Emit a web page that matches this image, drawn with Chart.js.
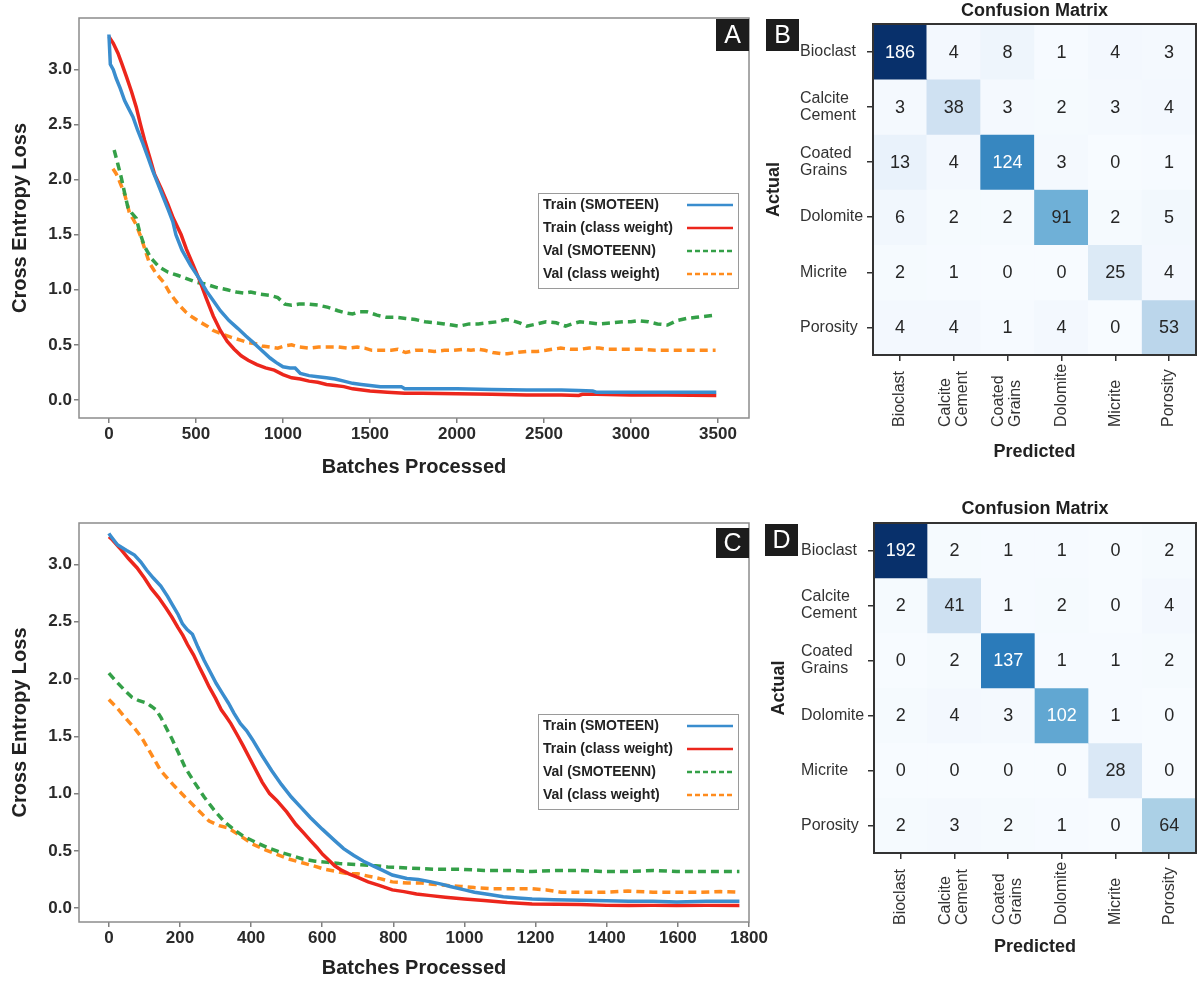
<!DOCTYPE html>
<html>
<head>
<meta charset="utf-8">
<script src="https://cdn.jsdelivr.net/npm/chart.js@4.4.1/dist/chart.umd.min.js"></script>
<style>
  html, body { margin: 0; padding: 0; background: #fff; }
  #fig { position: relative; width: 1199px; height: 982px; overflow: hidden; }
  canvas { position: absolute; }
</style>
</head>
<body>
<div id="fig">
  <canvas id="lossA" width="760" height="490" style="left:0;top:0"></canvas>
  <canvas id="lossC" width="775" height="492" style="left:0;top:490px"></canvas>
  <canvas id="cmB" width="439" height="490" style="left:760px;top:0"></canvas>
  <canvas id="cmD" width="439" height="492" style="left:760px;top:490px"></canvas>
</div>
<script>
// ---- data: panel A (loss curves, long run) ----
const trainSmoteA_x = [0, 8, 25, 42, 65, 90, 109, 138, 165, 195, 225, 252, 280, 310, 340, 367, 385, 420, 470, 520, 560, 600, 640, 690, 740, 787, 830, 871, 926, 960, 1000, 1040, 1070, 1100, 1150, 1200, 1250, 1300, 1350, 1400, 1450, 1500, 1560, 1650, 1680, 1700, 1800, 1900, 2000, 2200, 2400, 2600, 2700, 2780, 2800, 3000, 3200, 3490];
const trainSmoteA_y = [3.32, 3.05, 3.00, 2.92, 2.83, 2.72, 2.66, 2.57, 2.45, 2.33, 2.20, 2.08, 1.97, 1.85, 1.73, 1.62, 1.50, 1.36, 1.22, 1.10, 0.99, 0.90, 0.81, 0.72, 0.65, 0.58, 0.52, 0.46, 0.38, 0.34, 0.30, 0.29, 0.29, 0.24, 0.22, 0.21, 0.20, 0.19, 0.17, 0.15, 0.14, 0.13, 0.12, 0.12, 0.12, 0.10, 0.10, 0.10, 0.10, 0.095, 0.09, 0.09, 0.085, 0.08, 0.07, 0.07, 0.07, 0.07];
const trainWeightA_x = [0, 25, 52, 75, 100, 130, 157, 180, 205, 235, 262, 300, 338, 370, 415, 445, 480, 520, 560, 600, 640, 680, 720, 760, 800, 850, 900, 950, 1000, 1050, 1100, 1150, 1200, 1250, 1300, 1350, 1400, 1500, 1600, 1700, 1800, 2000, 2200, 2400, 2600, 2700, 2720, 2800, 3000, 3200, 3490];
const trainWeightA_y = [3.30, 3.24, 3.15, 3.05, 2.94, 2.80, 2.66, 2.51, 2.36, 2.20, 2.05, 1.92, 1.78, 1.65, 1.50, 1.37, 1.24, 1.09, 0.92, 0.76, 0.63, 0.53, 0.46, 0.40, 0.36, 0.32, 0.29, 0.27, 0.23, 0.20, 0.19, 0.17, 0.16, 0.14, 0.13, 0.12, 0.10, 0.08, 0.07, 0.06, 0.06, 0.055, 0.05, 0.045, 0.045, 0.04, 0.05, 0.05, 0.045, 0.045, 0.04];
const valSmoteA_x = [30, 50, 71, 90, 109, 130, 157, 176, 203, 240, 287, 340, 398, 450, 500, 560, 620, 680, 732, 780, 815, 870, 926, 970, 1010, 1050, 1093, 1150, 1205, 1260, 1316, 1360, 1400, 1440, 1483, 1540, 1594, 1650, 1705, 1760, 1817, 1870, 1928, 1970, 2012, 2070, 2123, 2180, 2234, 2280, 2318, 2360, 2401, 2460, 2512, 2570, 2624, 2660, 2707, 2760, 2818, 2890, 2958, 3000, 3041, 3100, 3152, 3210, 3264, 3320, 3375, 3430, 3486];
const valSmoteA_y = [2.27, 2.15, 2.02, 1.88, 1.75, 1.70, 1.65, 1.53, 1.40, 1.29, 1.21, 1.16, 1.13, 1.10, 1.07, 1.05, 1.02, 1.00, 0.98, 0.97, 0.98, 0.96, 0.95, 0.93, 0.87, 0.86, 0.87, 0.87, 0.86, 0.84, 0.81, 0.79, 0.78, 0.80, 0.80, 0.77, 0.75, 0.75, 0.74, 0.73, 0.71, 0.70, 0.69, 0.68, 0.67, 0.69, 0.69, 0.70, 0.71, 0.73, 0.72, 0.70, 0.67, 0.69, 0.71, 0.70, 0.67, 0.69, 0.71, 0.70, 0.69, 0.70, 0.71, 0.71, 0.72, 0.71, 0.69, 0.68, 0.72, 0.74, 0.75, 0.76, 0.77];
const valWeightA_x = [23, 40, 52, 70, 90, 105, 119, 140, 157, 186, 231, 270, 314, 350, 398, 440, 481, 520, 565, 600, 648, 700, 760, 800, 843, 880, 926, 970, 1010, 1050, 1093, 1150, 1205, 1260, 1316, 1370, 1427, 1470, 1511, 1570, 1622, 1660, 1705, 1760, 1817, 1870, 1928, 1980, 2040, 2080, 2123, 2160, 2206, 2250, 2290, 2340, 2401, 2460, 2512, 2550, 2596, 2650, 2707, 2760, 2818, 2870, 2930, 3000, 3069, 3140, 3208, 3290, 3375, 3486];
const valWeightA_y = [2.10, 2.06, 2.02, 1.95, 1.87, 1.78, 1.69, 1.64, 1.59, 1.47, 1.25, 1.15, 1.07, 0.97, 0.87, 0.80, 0.75, 0.71, 0.67, 0.63, 0.60, 0.57, 0.54, 0.52, 0.51, 0.49, 0.48, 0.47, 0.49, 0.50, 0.48, 0.47, 0.48, 0.48, 0.48, 0.47, 0.48, 0.47, 0.45, 0.45, 0.45, 0.46, 0.43, 0.45, 0.45, 0.44, 0.45, 0.45, 0.46, 0.45, 0.46, 0.45, 0.43, 0.42, 0.42, 0.43, 0.44, 0.44, 0.45, 0.46, 0.47, 0.46, 0.46, 0.47, 0.47, 0.46, 0.46, 0.46, 0.46, 0.45, 0.45, 0.45, 0.45, 0.45];

// ---- data: panel C (loss curves, short run) ----
const trainSmoteC_x = [0, 4, 24, 50, 72, 90, 106, 125, 146, 165, 180, 195, 207, 220, 235, 250, 268, 285, 302, 320, 336, 352, 370, 387, 404, 431, 458, 485, 513, 540, 567, 600, 635, 660, 689, 716, 743, 770, 797, 838, 870, 906, 935, 960, 1000, 1028, 1070, 1109, 1150, 1190, 1250, 1326, 1400, 1462, 1530, 1597, 1680, 1773];
const trainSmoteC_y = [3.27, 3.25, 3.17, 3.12, 3.08, 3.02, 2.95, 2.88, 2.81, 2.72, 2.64, 2.56, 2.48, 2.43, 2.39, 2.28, 2.16, 2.06, 1.96, 1.87, 1.79, 1.70, 1.61, 1.55, 1.47, 1.33, 1.20, 1.08, 0.97, 0.88, 0.79, 0.69, 0.59, 0.52, 0.46, 0.41, 0.37, 0.33, 0.29, 0.26, 0.25, 0.23, 0.21, 0.19, 0.16, 0.14, 0.12, 0.10, 0.09, 0.08, 0.075, 0.07, 0.065, 0.06, 0.06, 0.055, 0.06, 0.06];
const trainWeightC_x = [0, 8, 31, 55, 79, 100, 119, 140, 160, 177, 194, 208, 221, 238, 255, 268, 282, 300, 316, 330, 343, 363, 377, 404, 431, 452, 472, 500, 526, 547, 567, 585, 601, 618, 635, 655, 675, 700, 729, 760, 797, 830, 865, 905, 946, 1000, 1055, 1120, 1190, 1260, 1326, 1400, 1462, 1530, 1597, 1680, 1773];
const trainWeightC_y = [3.24, 3.22, 3.14, 3.05, 2.97, 2.88, 2.79, 2.71, 2.62, 2.54, 2.45, 2.38, 2.30, 2.21, 2.10, 2.02, 1.93, 1.83, 1.73, 1.67, 1.61, 1.50, 1.42, 1.26, 1.10, 1.00, 0.94, 0.84, 0.73, 0.66, 0.59, 0.53, 0.47, 0.42, 0.37, 0.33, 0.30, 0.27, 0.23, 0.20, 0.16, 0.145, 0.125, 0.11, 0.096, 0.08, 0.067, 0.05, 0.038, 0.035, 0.032, 0.025, 0.023, 0.025, 0.023, 0.025, 0.025];
const valSmoteC_x = [0, 20, 45, 65, 85, 106, 120, 133, 147, 160, 177, 195, 214, 240, 268, 295, 323, 350, 377, 410, 445, 480, 513, 545, 580, 615, 648, 700, 750, 784, 850, 919, 990, 1055, 1120, 1190, 1260, 1326, 1390, 1462, 1530, 1597, 1680, 1773];
const valSmoteC_y = [2.05, 1.98, 1.90, 1.84, 1.81, 1.79, 1.76, 1.73, 1.66, 1.58, 1.48, 1.36, 1.23, 1.10, 0.97, 0.86, 0.76, 0.69, 0.63, 0.58, 0.53, 0.49, 0.46, 0.43, 0.41, 0.40, 0.39, 0.38, 0.37, 0.36, 0.35, 0.34, 0.34, 0.33, 0.33, 0.32, 0.33, 0.33, 0.32, 0.32, 0.33, 0.32, 0.32, 0.32];
const valWeightC_x = [0, 25, 52, 72, 92, 120, 146, 180, 214, 250, 282, 310, 336, 370, 404, 440, 472, 505, 540, 575, 607, 640, 675, 700, 729, 760, 797, 840, 879, 910, 946, 990, 1028, 1080, 1136, 1190, 1231, 1272, 1330, 1394, 1460, 1530, 1600, 1665, 1720, 1773];
const valWeightC_y = [1.82, 1.74, 1.64, 1.57, 1.49, 1.34, 1.20, 1.08, 0.97, 0.86, 0.76, 0.72, 0.70, 0.63, 0.56, 0.51, 0.47, 0.43, 0.40, 0.37, 0.34, 0.32, 0.30, 0.30, 0.28, 0.26, 0.23, 0.22, 0.22, 0.21, 0.20, 0.19, 0.18, 0.17, 0.17, 0.17, 0.16, 0.14, 0.14, 0.14, 0.15, 0.14, 0.14, 0.14, 0.145, 0.14];

// ---- axes ticks ----
const xTicksA = [0, 500, 1000, 1500, 2000, 2500, 3000, 3500];
const xTicksC = [0, 200, 400, 600, 800, 1000, 1200, 1400, 1600, 1800];
const yTicksLoss = [0, 0.5, 1.0, 1.5, 2.0, 2.5, 3.0];

const seriesLabels = ['Train (SMOTEEN)', 'Train (class weight)', 'Val (SMOTEENN)', 'Val (class weight)'];

// ---- data: confusion matrices (rows = actual, cols = predicted) ----
const classNames = [['Bioclast'], ['Calcite', 'Cement'], ['Coated', 'Grains'], ['Dolomite'], ['Micrite'], ['Porosity']];
const cmB = [
  [186, 4, 8, 1, 4, 3],
  [3, 38, 3, 2, 3, 4],
  [13, 4, 124, 3, 0, 1],
  [6, 2, 2, 91, 2, 5],
  [2, 1, 0, 0, 25, 4],
  [4, 4, 1, 4, 0, 53]
];
const cmD = [
  [192, 2, 1, 1, 0, 2],
  [2, 41, 1, 2, 0, 4],
  [0, 2, 137, 1, 1, 2],
  [2, 4, 3, 102, 1, 0],
  [0, 0, 0, 0, 28, 0],
  [2, 3, 2, 1, 0, 64]
];

// ---- styling ----
const FONT = '"Liberation Sans", Arial, Helvetica, sans-serif';
Chart.defaults.font.family = FONT;
Chart.defaults.color = '#333';

const lineStyles = [
  { color: 'rgb(58, 141, 206)', dash: [] },
  { color: 'rgb(236, 38, 28)', dash: [] },
  { color: 'rgb(52, 160, 72)', dash: [8, 5] },
  { color: 'rgb(255, 140, 30)', dash: [8, 5] }
];

const BLUES = ['#f7fbff', '#deebf7', '#c6dbef', '#9ecae1', '#6baed6', '#4292c6', '#2171b5', '#08519c', '#08306b'];
const hex = h => [1, 3, 5].map(k => parseInt(h.slice(k, k + 2), 16));
function blues(t) {
  t = Math.max(0, Math.min(1, t));
  const p = t * (BLUES.length - 1);
  const i = Math.min(Math.floor(p), BLUES.length - 2);
  const f = p - i;
  const a = hex(BLUES[i]), b = hex(BLUES[i + 1]);
  return `rgb(${a.map((c, k) => Math.round(c + (b[k] - c) * f)).join(',')})`;
}

function drawTag(ctx, text, x, y, w, h) {
  ctx.fillStyle = '#1c1c1c';
  ctx.fillRect(x, y, w, h);
  ctx.fillStyle = '#fff';
  ctx.font = `25px ${FONT}`;
  ctx.textAlign = 'center';
  ctx.textBaseline = 'middle';
  ctx.fillText(text, x + w / 2, y + h / 2 + 1);
}

// frame, panel letter and boxed legend for the loss plots
const lossDeco = {
  id: 'lossDeco',
  afterDraw(chart, args, o) {
    const { ctx, chartArea: a } = chart;
    ctx.save();
    ctx.strokeStyle = '#8c8c8c';
    ctx.lineWidth = 1.5;
    ctx.strokeRect(a.left, a.top, a.right - a.left, a.bottom - a.top);
    drawTag(ctx, o.tag, a.right - 33, a.top + o.tagDy, 33, o.tagH);

    // legend: label on the left, line sample on the right
    const bx = a.right - 211, by = a.top + o.legendTop, bw = 200, bh = 95;
    ctx.fillStyle = '#fff';
    ctx.fillRect(bx, by, bw, bh);
    ctx.strokeStyle = '#9a9a9a';
    ctx.lineWidth = 1;
    ctx.strokeRect(bx + 0.5, by + 0.5, bw, bh);
    chart.data.datasets.forEach((ds, i) => {
      const y = by + 12 + i * 23;
      ctx.fillStyle = '#222';
      ctx.font = `bold 14px ${FONT}`;
      ctx.textAlign = 'left';
      ctx.textBaseline = 'middle';
      ctx.fillText(ds.label, bx + 5, y);
      ctx.strokeStyle = ds.borderColor;
      ctx.lineWidth = 2.5;
      ctx.setLineDash(ds.borderDash.length ? [5, 3] : []);
      ctx.beginPath();
      ctx.moveTo(bx + bw - 51, y);
      ctx.lineTo(bx + bw - 5, y);
      ctx.stroke();
      ctx.setLineDash([]);
    });
    ctx.restore();
  }
};

function lossChart(id, series, o) {
  const tickFont = { size: 17, weight: 'bold' };
  const titleFont = { size: 20, weight: 'bold' };
  const gridStyle = { drawOnChartArea: false, drawTicks: true, tickLength: 5, color: '#808080', lineWidth: 1.5 };
  return new Chart(document.getElementById(id), {
    type: 'line',
    data: {
      datasets: series.map((s, i) => ({
        label: seriesLabels[i],
        data: s.x.map((x, k) => ({ x, y: s.y[k] })),
        borderColor: lineStyles[i].color,
        borderDash: lineStyles[i].dash,
        borderWidth: 3.5,
        pointRadius: 0,
        tension: 0,
        fill: false
      }))
    },
    options: {
      animation: false,
      responsive: false,
      devicePixelRatio: 1,
      layout: { padding: { top: o.top, right: o.right, left: 0, bottom: 0 } },
      plugins: {
        legend: { display: false },
        tooltip: { enabled: false },
        lossDeco: { tag: o.tag, tagDy: o.tagDy, tagH: o.tagH, legendTop: o.legendTop }
      },
      scales: {
        x: {
          type: 'linear',
          min: o.xMin,
          max: o.xMax,
          afterBuildTicks: s => { s.ticks = o.xTicks.map(v => ({ value: v })); },
          afterFit: s => { s.height = o.xAxisH; },
          ticks: { font: tickFont, color: '#2a2a2a', padding: 1, maxRotation: 0, callback: v => String(v) },
          grid: gridStyle,
          border: { display: false },
          title: { display: true, text: 'Batches Processed', font: titleFont, color: '#222', padding: { top: 0, bottom: o.xTitlePad } }
        },
        y: {
          type: 'linear',
          min: o.yMin,
          max: o.yMax,
          afterBuildTicks: s => { s.ticks = yTicksLoss.map(v => ({ value: v })); },
          afterFit: s => { s.width = 79; },
          ticks: { font: tickFont, color: '#2a2a2a', padding: 2, callback: v => v.toFixed(1) },
          grid: gridStyle,
          border: { display: false },
          title: { display: true, text: 'Cross Entropy Loss', font: titleFont, color: '#222', padding: { top: 8, bottom: 0 } }
        }
      }
    },
    plugins: [lossDeco]
  });
}

lossChart('lossA', [
  { x: trainSmoteA_x, y: trainSmoteA_y },
  { x: trainWeightA_x, y: trainWeightA_y },
  { x: valSmoteA_x, y: valSmoteA_y },
  { x: valWeightA_x, y: valWeightA_y }
], { tag: 'A', tagDy: 1, tagH: 32, legendTop: 175, top: 18, right: 11, xAxisH: 72, xTitlePad: 11,
     xMin: -172, xMax: 3678, yMin: -0.165, yMax: 3.47, xTicks: xTicksA });

lossChart('lossC', [
  { x: trainSmoteC_x, y: trainSmoteC_y },
  { x: trainWeightC_x, y: trainWeightC_y },
  { x: valSmoteC_x, y: valSmoteC_y },
  { x: valWeightC_x, y: valWeightC_y }
], { tag: 'C', tagDy: 5, tagH: 30, legendTop: 191, top: 33, right: 26, xAxisH: 60, xTitlePad: 2,
     xMin: -84, xMax: 1800, yMin: -0.12, yMax: 3.36, xTicks: xTicksC });

// cell numbers, class labels, frame, title and letter for the matrices
const cmDeco = {
  id: 'cmDeco',
  afterDatasetsDraw(chart, args, o) {
    const ctx = chart.ctx;
    const flat = o.cm.flat();
    const thresh = (Math.max(...flat) + Math.min(...flat)) / 2;
    ctx.save();
    ctx.font = `18px ${FONT}`;
    ctx.textAlign = 'center';
    ctx.textBaseline = 'middle';
    chart.data.datasets.forEach((ds, i) => {
      chart.getDatasetMeta(i).data.forEach((el, j) => {
        const v = o.cm[i][j];
        ctx.fillStyle = v < thresh ? '#262626' : '#ffffff';
        ctx.fillText(String(v), el.x, (el.y + el.base) / 2 + 1);
      });
    });
    ctx.restore();
  },
  afterDraw(chart, args, o) {
    const { ctx, chartArea: a, scales } = chart;
    ctx.save();
    ctx.strokeStyle = '#333';
    ctx.lineWidth = 2;
    ctx.strokeRect(a.left, a.top, a.right - a.left, a.bottom - a.top);

    ctx.fillStyle = '#333';
    ctx.font = `16px ${FONT}`;
    // row labels (left aligned)
    ctx.textAlign = 'left';
    ctx.textBaseline = 'middle';
    classNames.forEach((lines, i) => {
      const y = scales.y.getPixelForValue(i);
      lines.forEach((t, k) => ctx.fillText(t, o.rowLabelX, y + (k - (lines.length - 1) / 2) * 17));
    });
    // column labels, rotated, starting from a common baseline
    classNames.forEach((lines, j) => {
      const x = scales.x.getPixelForValue(j);
      ctx.save();
      ctx.translate(x, a.bottom + 72);
      ctx.rotate(-Math.PI / 2);
      lines.forEach((t, k) => ctx.fillText(t, 0, (k - (lines.length - 1) / 2) * 17));
      ctx.restore();
    });

    ctx.fillStyle = '#1f1f1f';
    ctx.font = `bold 18px ${FONT}`;
    ctx.textAlign = 'center';
    ctx.fillText('Confusion Matrix', (a.left + a.right) / 2, o.titleY);

    drawTag(ctx, o.tag, o.tagX, o.tagY, 33, 32);
    ctx.restore();
  }
};

function cmChart(id, cm, o) {
  const flat = cm.flat();
  const vmin = Math.min(...flat), vmax = Math.max(...flat);
  const tickGrid = { drawOnChartArea: false, drawTicks: true, tickLength: 6, color: '#333', lineWidth: 1.5 };
  const titleFont = { size: 18, weight: 'bold' };
  return new Chart(document.getElementById(id), {
    type: 'bar',
    data: {
      labels: classNames.map(l => l.join(' ')),
      datasets: cm.map((row, i) => ({
        data: row.map(() => [i - 0.5, i + 0.5]),
        backgroundColor: row.map(v => blues((v - vmin) / (vmax - vmin))),
        borderWidth: 0,
        barPercentage: 1,
        categoryPercentage: 1,
        grouped: false
      }))
    },
    options: {
      animation: false,
      responsive: false,
      devicePixelRatio: 1,
      layout: { padding: { top: o.top, right: 3, left: 0, bottom: 0 } },
      plugins: {
        legend: { display: false },
        tooltip: { enabled: false },
        cmDeco: { cm, rowLabelX: o.rowLabelX, titleY: o.titleY, tag: o.tag, tagX: o.tagX, tagY: o.tagY }
      },
      scales: {
        x: {
          type: 'category',
          offset: true,
          afterFit: s => { s.height = o.xAxisH; },
          ticks: { display: false },
          grid: Object.assign({ offset: false }, tickGrid),
          border: { display: false },
          title: { display: true, text: 'Predicted', font: titleFont, color: '#222', padding: { top: 0, bottom: o.predPad } }
        },
        y: {
          type: 'linear',
          reverse: true,
          min: -0.5,
          max: 5.5,
          afterBuildTicks: s => { s.ticks = classNames.map((_, i) => ({ value: i })); },
          afterFit: s => { s.width = o.yAxisW; },
          ticks: { display: false },
          grid: tickGrid,
          border: { display: false },
          title: { display: true, text: 'Actual', font: titleFont, color: '#222', padding: { top: o.actPad, bottom: 0 } }
        }
      }
    },
    plugins: [cmDeco]
  });
}

cmChart('cmB', cmB, { top: 24, xAxisH: 135, yAxisW: 113, predPad: 27, actPad: 3,
                      rowLabelX: 40, titleY: 11, tag: 'B', tagX: 6, tagY: 19 });
cmChart('cmD', cmD, { top: 33, xAxisH: 129, yAxisW: 114, predPad: 24, actPad: 8,
                      rowLabelX: 41, titleY: 19, tag: 'D', tagX: 5, tagY: 34 });
</script>
</body>
</html>
